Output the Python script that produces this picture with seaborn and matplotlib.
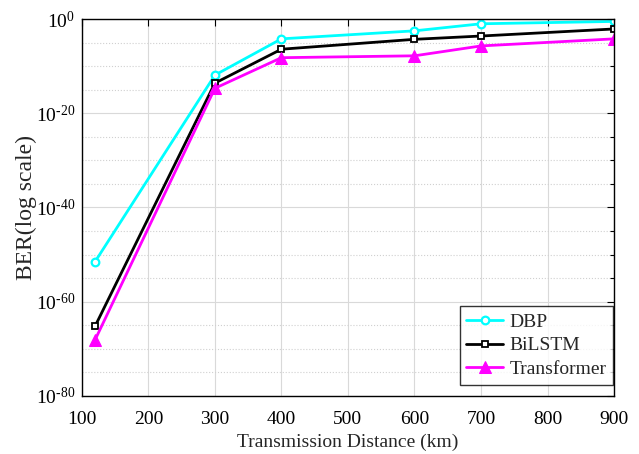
import numpy as np
import pandas as pd
import seaborn as sns
import matplotlib
matplotlib.use("Agg")
import matplotlib.pyplot as plt
from matplotlib.ticker import FixedLocator, FuncFormatter

# Transmission distances (km)
distance = [120, 300, 400, 600, 700, 900]
# BER exponents (log10 BER) for each equalizer
dbp_exp = [-51.5, -11.9, -4.2, -2.5, -1.0, -0.5]
bilstm_exp = [-65.2, -13.6, -6.4, -4.3, -3.6, -2.1]
transformer_exp = [-68.1, -14.7, -8.2, -7.8, -5.7, -4.2]

series_names = ["DBP", "BiLSTM", "Transformer"]
series_exps = [dbp_exp, bilstm_exp, transformer_exp]

y_major_exps = [0, -20, -40, -60, -80]
x_ticks = [100, 200, 300, 400, 500, 600, 700, 800, 900]

sns.set_style("white")
plt.rcParams["font.family"] = ["Liberation Serif", "DejaVu Serif"]
plt.rcParams["mathtext.fontset"] = "custom"
plt.rcParams["mathtext.rm"] = "Liberation Serif"
plt.rcParams["mathtext.it"] = "Liberation Serif:italic"

df = pd.concat([
    pd.DataFrame({"distance": distance, "ber": np.power(10.0, e), "method": n})
    for n, e in zip(series_names, series_exps)
])

fig = plt.figure(figsize=(6.39, 4.54), dpi=100)
ax = fig.add_axes([0.128, 0.128, 0.833, 0.830])

styles = {
    "DBP": dict(color="#00FFFF", marker="o", markersize=5.5, markerfacecolor="white",
                markeredgecolor="#00FFFF", markeredgewidth=1.6),
    "BiLSTM": dict(color="black", marker="s", markersize=5, markerfacecolor="white",
                   markeredgecolor="black", markeredgewidth=1.3),
    "Transformer": dict(color="#FF00FF", marker="^", markersize=8, markerfacecolor="#FF00FF",
                        markeredgecolor="#FF00FF"),
}

for name in series_names:
    sub = df[df["method"] == name]
    sns.lineplot(data=sub, x="distance", y="ber", ax=ax, label=name,
                 linewidth=2, **styles[name])

ax.set_yscale("log")
ax.set_xlim(100, 900)
ax.set_ylim(1e-80, 1e0)
ax.xaxis.set_major_locator(FixedLocator(x_ticks))
ax.yaxis.set_major_locator(FixedLocator([10.0 ** e for e in y_major_exps]))
ax.yaxis.set_minor_locator(FixedLocator([10.0 ** e for e in range(-80, 1, 5)
                                         if e not in y_major_exps]))
ax.yaxis.set_major_formatter(FuncFormatter(
    lambda v, p: r"$\mathregular{10^{%s}}$" % ("%d" % int(round(np.log10(v)))).replace("-", "\u2010")))
ax.yaxis.set_minor_formatter(FuncFormatter(lambda v, p: ""))

ax.grid(True, which="major", color="#d9d9d9", linewidth=0.8, linestyle="-")
ax.grid(True, which="minor", axis="y", color="#d0d0d0", linewidth=0.8, linestyle=":")

ax.tick_params(axis="both", which="both", direction="in", top=True, right=True,
               labelsize=14, colors="black")
ax.tick_params(which="major", length=5, width=0.8)
ax.tick_params(which="minor", length=3, width=0.8)
ax.tick_params(axis="x", which="major", pad=11)
ax.tick_params(axis="y", which="major", pad=5)
for s in ax.spines.values():
    s.set_color("black")
    s.set_linewidth(1.0)

ax.set_xlabel("Transmission Distance (km)", fontsize=14, labelpad=4)
ax.set_ylabel("BER(log scale)", fontsize=17, labelpad=-1)

leg = ax.legend(loc="lower right", bbox_to_anchor=(0.998, 0.03), fontsize=14,
                frameon=True, fancybox=False, borderpad=0.35, labelspacing=0.3,
                handlelength=1.9, handletextpad=0.3, borderaxespad=0.0)
leg.get_frame().set_edgecolor("black")
leg.get_frame().set_linewidth(1.0)

fig.savefig("out.png", dpi=100)
